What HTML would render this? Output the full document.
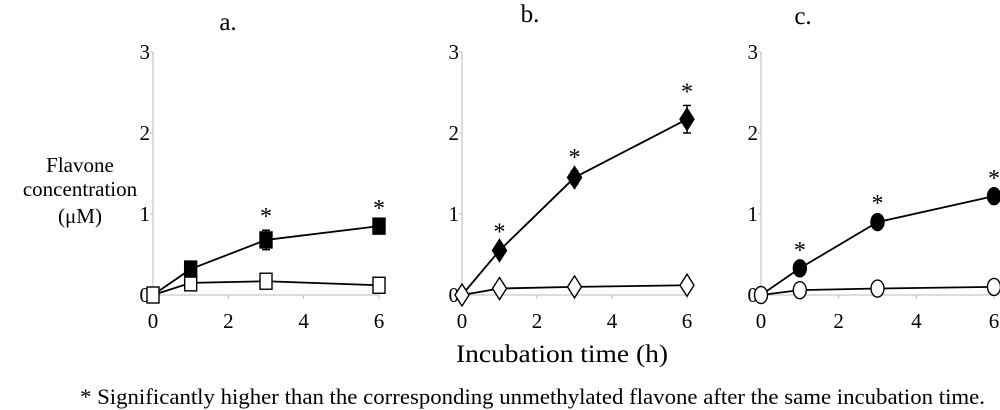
<!DOCTYPE html>
<html><head><meta charset="utf-8"><style>
body{margin:0;background:#fff;}
svg{display:block;font-family:"Liberation Serif",serif;}
</style></head><body>
<svg id="c" width="1000" height="410">
<g font-size="21">
<text x="80" y="172" text-anchor="middle">Flavone</text>
<text x="80" y="196" text-anchor="middle">concentration</text>
<text x="80" y="223" text-anchor="middle">(μM)</text>
</g>
<text x="562" y="362" font-size="25" text-anchor="middle" textLength="212" lengthAdjust="spacingAndGlyphs">Incubation time (h)</text>
<text x="80" y="404" font-size="22.5" textLength="905" lengthAdjust="spacingAndGlyphs">* Significantly higher than the corresponding unmethylated flavone after the same incubation time.</text>
</svg>
<script>
const times=[0,1,3,6];
const xTicks=[0,2,4,6];
const yTicks=[0,1,2,3];
const titles=["a.","b.","c."];
const filledA=[0,0.32,0.68,0.85], openA=[0,0.15,0.17,0.12], errA=[0,0.05,0.12,0.05];
const filledB=[0,0.55,1.45,2.17], openB=[0,0.08,0.1,0.12], errB=[0,0.06,0.08,0.17];
const filledC=[0,0.33,0.9,1.22], openC=[0,0.06,0.08,0.1], errC=[0,0.04,0.06,0.05];
const starsA=[false,false,true,true], starsB=[false,true,true,true], starsC=[false,true,true,true];
const panels=[
 {x0:153,x1:379,title:titles[0],tx:228,ty:30,filled:filledA,open:openA,err:errA,stars:starsA,shape:'square'},
 {x0:462,x1:687,title:titles[1],tx:530,ty:22,filled:filledB,open:openB,err:errB,stars:starsB,shape:'diamond'},
 {x0:761,x1:994,title:titles[2],tx:803,ty:24,filled:filledC,open:openC,err:errC,stars:starsC,shape:'circle'}];
const svg=document.getElementById('c');const NS='http://www.w3.org/2000/svg';
function mk(t,a,p){const e=document.createElementNS(NS,t);for(const k in a)e.setAttribute(k,a[k]);(p||svg).appendChild(e);return e;}
const yTop=52,yBot=295;
panels.forEach((p,i)=>{
 const g=mk('g',{});
 
 
 const X=v=>p.x0+(p.x1-p.x0)*v/6, Y=v=>yBot-(yBot-yTop)*v/3;
 const t=mk('text',{x:p.tx,y:p.ty,'font-size':25,'text-anchor':'middle'},g);t.textContent=p.title;
 
 
 mk('line',{x1:p.x0,y1:yTop,x2:p.x0,y2:yBot,stroke:'#bbb'},g);
 mk('line',{x1:p.x0,y1:yBot,x2:p.x1,y2:yBot,stroke:'#bbb'},g);
 yTicks.forEach(v=>{mk('line',{x1:p.x0-3,y1:Y(v),x2:p.x0,y2:Y(v),stroke:'#bbb'},g);
  const l=mk('text',{x:p.x0-3,y:Y(v)+7,'font-size':21,'text-anchor':'end'},g);l.textContent=v;
  
  });
 xTicks.forEach(v=>{mk('line',{x1:X(v),y1:yBot,x2:X(v),y2:yBot+4,stroke:'#bbb'},g);
  const l=mk('text',{x:X(v),y:yBot+33,'font-size':21,'text-anchor':'middle'},g);l.textContent=v;
  
  });
 [p.open,p.filled].forEach((s,si)=>{
  const pl=mk('polyline',{points:s.map((v,j)=>X(times[j])+','+Y(v)).join(' '),fill:'none',stroke:'#000','stroke-width':1.8},g);
  
  
 });
 p.filled.forEach((v,j)=>{if(p.err[j]>0.04){const x=X(times[j]);
  mk('line',{x1:x,y1:Y(v+p.err[j]),x2:x,y2:Y(v-p.err[j]),stroke:'#000','stroke-width':1.5},g);
  mk('line',{x1:x-4,y1:Y(v+p.err[j]),x2:x+4,y2:Y(v+p.err[j]),stroke:'#000','stroke-width':1.5},g);
  mk('line',{x1:x-4,y1:Y(v-p.err[j]),x2:x+4,y2:Y(v-p.err[j]),stroke:'#000','stroke-width':1.5},g);}
  if(p.stars[j]){const st=mk('text',{x:X(times[j]),y:Y(v+Math.max(p.err[j],0.05))-6,'font-size':24,'text-anchor':'middle'},g);st.textContent='*';
   
   }});
 [[p.open,'#fff'],[p.filled,'#000']].forEach(([s,f])=>s.forEach((v,j)=>{
  if(j===0&&f==='#000')return;
  const x=X(times[j]),y=Y(v);let m;
  if(p.shape==='square')m=mk('rect',{x:x-6,y:y-8,width:12,height:16,fill:f,stroke:'#000','stroke-width':1.4},g);
  else if(p.shape==='diamond')m=mk('polygon',{points:`${x},${y-11} ${x+7},${y} ${x},${y+11} ${x-7},${y}`,fill:f,stroke:'#000','stroke-width':1.4},g);
  else m=mk('ellipse',{cx:x,cy:y,rx:6.5,ry:8.5,fill:f,stroke:'#000','stroke-width':1.4},g);
  
  
 }));
});
</script>
</body></html>
